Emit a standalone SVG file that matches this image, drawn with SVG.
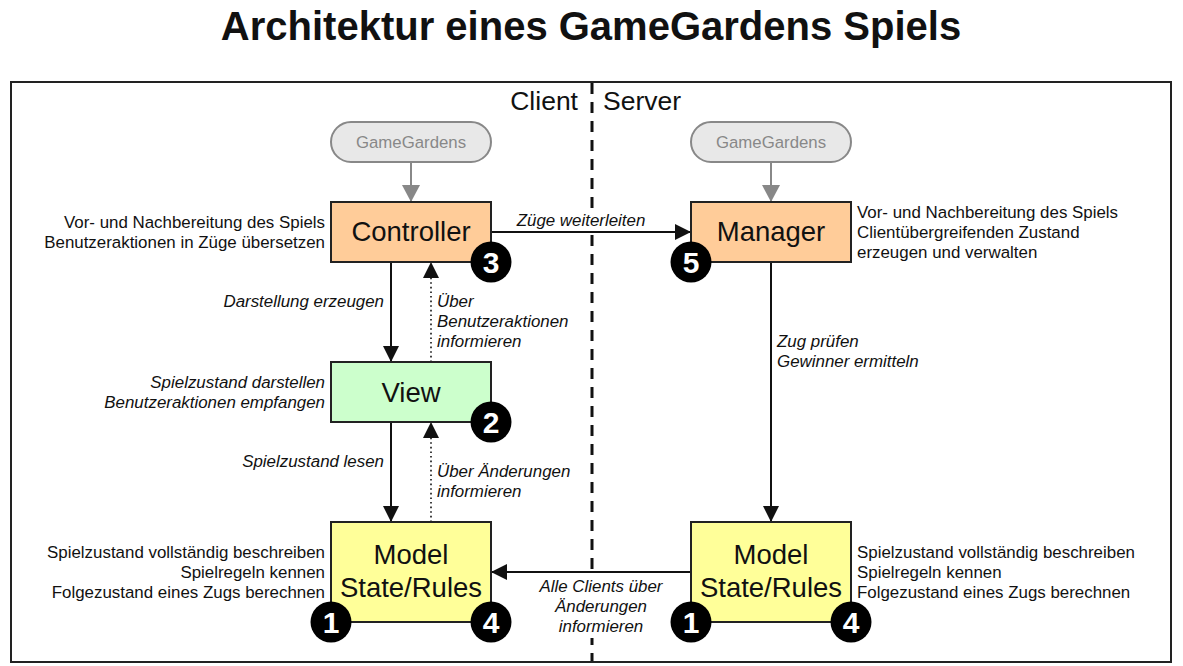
<svg xmlns="http://www.w3.org/2000/svg" width="1183" height="666" viewBox="0 0 1183 666">
<style>
text{font-family:"Liberation Sans",Arial,sans-serif;fill:#111}
.title{font-size:40px;font-weight:bold;text-anchor:middle}
.side{font-size:26.5px}
.node{font-size:27.5px;text-anchor:middle}
.pill{font-size:16.8px;text-anchor:middle;fill:#888}
.desc{font-size:16.9px}
.lab{font-size:16.9px;font-style:italic}
.r{text-anchor:end}
.m{text-anchor:middle}
.badge text{font-size:30px;font-weight:bold;fill:#fff;text-anchor:middle}
.badge circle{fill:#000}
.box{stroke:#222;stroke-width:2}
.line{stroke:#111;stroke-width:2;fill:none}
.dot{stroke:#111;stroke-width:1.6;stroke-dasharray:1.6 3;fill:none}
.gray{stroke:#888;stroke-width:2;fill:none}
</style>
<defs>
<marker id="ah" viewBox="0 0 16 16" refX="16" refY="8" markerWidth="16" markerHeight="16" markerUnits="userSpaceOnUse" orient="auto">
<path d="M0,0 L16,8 L0,16 z" fill="#111"/>
</marker>
<marker id="ahg" viewBox="0 0 17 18" refX="17" refY="9" markerWidth="17" markerHeight="18" markerUnits="userSpaceOnUse" orient="auto">
<path d="M0,0 L17,9 L0,18 z" fill="#888"/>
</marker>
</defs>
<rect width="1183" height="666" fill="#fff"/>
<text class="title" x="591" y="40">Architektur eines GameGardens Spiels</text>
<rect x="11" y="82" width="1160" height="580" fill="none" stroke="#222" stroke-width="2"/>
<line x1="592" y1="83" x2="592" y2="661" stroke="#111" stroke-width="3" stroke-dasharray="11 8"/>
<text class="side r" x="578" y="110">Client</text>
<text class="side" x="603" y="110">Server</text>

<g id="connectors">
<line class="gray" x1="411" y1="162" x2="411" y2="202" marker-end="url(#ahg)"/>
<line class="gray" x1="771" y1="162" x2="771" y2="202" marker-end="url(#ahg)"/>
<rect x="514" y="210" width="134" height="20" fill="#fff"/>
<line class="line" x1="491" y1="232" x2="691" y2="232" marker-end="url(#ah)"/>
<line class="line" x1="391" y1="262" x2="391" y2="362" marker-end="url(#ah)"/>
<line class="dot" x1="431" y1="362" x2="431" y2="262" marker-end="url(#ah)"/>
<line class="line" x1="391" y1="422" x2="391" y2="522" marker-end="url(#ah)"/>
<line class="dot" x1="431" y1="522" x2="431" y2="422" marker-end="url(#ah)"/>
<line class="line" x1="771" y1="262" x2="771" y2="522" marker-end="url(#ah)"/>
<line class="line" x1="691" y1="572" x2="491" y2="572" marker-end="url(#ah)"/>
<rect x="536" y="576" width="130" height="62" fill="#fff"/>
<text class="lab m" x="581" y="226">Züge weiterleiten</text>
<text class="lab r" x="384" y="307">Darstellung erzeugen</text>
<text class="lab" x="437" y="307">Über</text>
<text class="lab" x="437" y="327">Benutzeraktionen</text>
<text class="lab" x="437" y="347">informieren</text>
<text class="lab r" x="384" y="467">Spielzustand lesen</text>
<text class="lab" x="437" y="477">Über Änderungen</text>
<text class="lab" x="437" y="497">informieren</text>
<text class="lab" x="777" y="347">Zug prüfen</text>
<text class="lab" x="777" y="367">Gewinner ermitteln</text>
<text class="lab m" x="601" y="592">Alle Clients über</text>
<text class="lab m" x="601" y="612">Änderungen</text>
<text class="lab m" x="601" y="632">informieren</text>
</g>

<g id="gg-client">
<rect x="331" y="122" width="160" height="40" rx="20" fill="#e8e8e8" stroke="#888" stroke-width="2"/>
<text class="pill" x="411" y="147.5">GameGardens</text>
</g>
<g id="gg-server">
<rect x="691" y="122" width="160" height="40" rx="20" fill="#e8e8e8" stroke="#888" stroke-width="2"/>
<text class="pill" x="771" y="147.5">GameGardens</text>
</g>

<g id="controller">
<rect class="box" x="331" y="202" width="160" height="60" fill="#ffcc99"/>
<text class="node" x="411" y="241">Controller</text>
<text class="desc r" x="325" y="227.5">Vor- und Nachbereitung des Spiels</text>
<text class="desc r" x="325" y="247.5">Benutzeraktionen in Züge übersetzen</text>
<g class="badge"><circle cx="491" cy="262" r="20.5"/><text x="491" y="273">3</text></g>
</g>

<g id="manager">
<rect class="box" x="691" y="202" width="160" height="60" fill="#ffcc99"/>
<text class="node" x="771" y="241">Manager</text>
<text class="desc" x="857" y="217.5">Vor- und Nachbereitung des Spiels</text>
<text class="desc" x="857" y="237.5">Clientübergreifenden Zustand</text>
<text class="desc" x="857" y="257.5">erzeugen und verwalten</text>
<g class="badge"><circle cx="691" cy="262" r="20.5"/><text x="691" y="273">5</text></g>
</g>

<g id="view">
<rect class="box" x="331" y="362" width="160" height="60" fill="#ccffcc"/>
<text class="node" x="411" y="401.5">View</text>
<text class="lab r" x="325" y="387.5">Spielzustand darstellen</text>
<text class="lab r" x="325" y="407.5">Benutzeraktionen empfangen</text>
<g class="badge"><circle cx="491" cy="422" r="20.5"/><text x="491" y="433">2</text></g>
</g>

<g id="model-client">
<rect class="box" x="331" y="522" width="160" height="100" fill="#ffff99"/>
<text class="node" x="411" y="563.5">Model</text>
<text class="node" x="411" y="596.5">State/Rules</text>
<text class="desc r" x="325" y="557.5">Spielzustand vollständig beschreiben</text>
<text class="desc r" x="325" y="577.5">Spielregeln kennen</text>
<text class="desc r" x="325" y="597.5">Folgezustand eines Zugs berechnen</text>
<g class="badge"><circle cx="331" cy="622" r="20.5"/><text x="331" y="633">1</text></g>
<g class="badge"><circle cx="491" cy="622" r="20.5"/><text x="491" y="633">4</text></g>
</g>

<g id="model-server">
<rect class="box" x="691" y="522" width="160" height="100" fill="#ffff99"/>
<text class="node" x="771" y="563.5">Model</text>
<text class="node" x="771" y="596.5">State/Rules</text>
<text class="desc" x="857" y="557.5">Spielzustand vollständig beschreiben</text>
<text class="desc" x="857" y="577.5">Spielregeln kennen</text>
<text class="desc" x="857" y="597.5">Folgezustand eines Zugs berechnen</text>
<g class="badge"><circle cx="691" cy="622" r="20.5"/><text x="691" y="633">1</text></g>
<g class="badge"><circle cx="851" cy="622" r="20.5"/><text x="851" y="633">4</text></g>
</g>
</svg>
